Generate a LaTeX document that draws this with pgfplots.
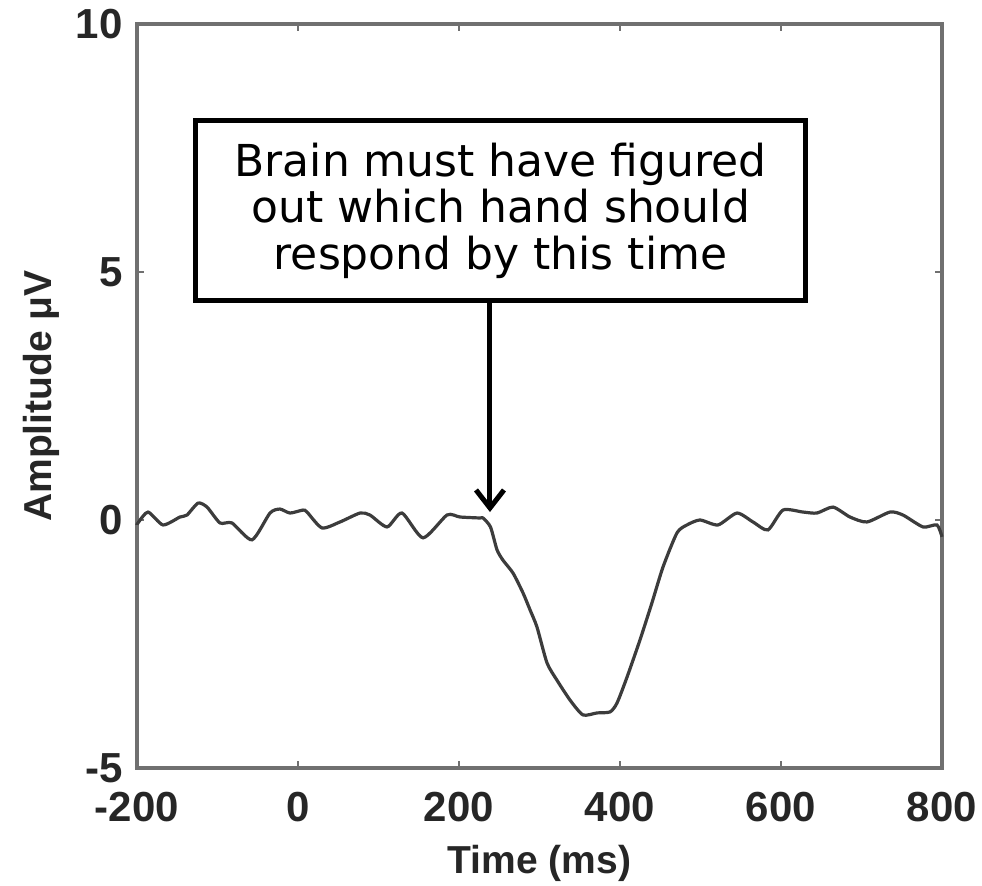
\documentclass[border=0pt]{standalone}
\usepackage{fontspec}
\setmainfont{Liberation Sans}
\newfontfamily\boxfont{DejaVu Sans}
\usepackage{pgfplots}
\pgfplotsset{compat=1.18}
\usetikzlibrary{arrows.meta}
\definecolor{framegray}{HTML}{707070}
\definecolor{curvegray}{HTML}{3C3C3C}
\begin{document}
\begin{tikzpicture}
\path[use as bounding box] (-68.5pt,-59pt) rectangle (422.5pt,384pt);
\begin{axis}[
  at={(0,0)}, anchor=south west,
  scale only axis, width=402.5pt, height=372pt,
  xmin=-200, xmax=800, ymin=-5, ymax=10,
  xtick={-200,0,200,400,600,800},
  ytick={-5,0,5,10},
  tick align=inside,
  major tick length=3.5pt,
  axis line style={framegray, line width=1.6pt},
  tick style={framegray, line width=1.4pt},
  /pgf/number format/assume math mode=true,
  ticklabel style={font=\fontsize{21}{21}\selectfont\bfseries, text=black!85},
  xticklabel style={inner sep=0pt, yshift=-12pt},
  yticklabel style={inner sep=0pt, xshift=-7pt},
  xlabel={Time (ms)},
  ylabel={Amplitude μV},
  xlabel style={font=\fontsize{19.5}{19.5}\selectfont\bfseries, text=black!85,
    at={(axis description cs:0.5,-0.1035)}, anchor=north, inner sep=0pt},
  ylabel style={font=\fontsize{19.5}{19.5}\selectfont\bfseries, text=black!85,
    at={(axis description cs:-0.0957,0.5)}, anchor=south, inner sep=0pt},
  clip=false,
]
\addplot[curvegray, line width=1.6pt, smooth, tension=0.4] coordinates {
(-200,-0.10) (-198.8,-0.06) (-186.3,0.16) (-167.7,-0.10) (-146.6,0.06) (-137.9,0.10)
(-124.2,0.34) (-113,0.26) (-96.9,-0.06) (-82,-0.06) (-57.1,-0.40) (-34.8,0.14)
(-22.4,0.22) (-9.9,0.14) (6.2,0.20) (11.2,0.16) (29.8,-0.16) (52.2,-0.04)
(77,0.14) (89.4,0.10) (110.6,-0.14) (129.2,0.14) (155.3,-0.36) (185.1,0.10)
(201.2,0.06) (226.1,0.04) (229.8,0.04) (239.1,-0.14) (247.2,-0.60) (254.6,-0.81)
(267.1,-1.07) (279.5,-1.47) (288.2,-1.81) (296.9,-2.16) (309.3,-2.88) (321.7,-3.23)
(337.9,-3.63) (354,-3.93) (371.4,-3.89) (387.6,-3.87) (396.3,-3.69) (408.7,-3.17)
(424.8,-2.42) (439.7,-1.67) (453.4,-0.95) (470.8,-0.26) (483.2,-0.10) (499.4,0.0)
(521.7,-0.10) (545.3,0.14) (565.2,-0.04) (583.8,-0.20) (602.5,0.20) (627.3,0.16)
(644.7,0.14) (664.6,0.26) (685.7,0.06) (706.8,-0.04) (735.4,0.16) (751.5,0.10)
(776.4,-0.14) (793.8,-0.10) (800,-0.34)
};
\node[draw=black, line width=2.5pt, fill=white, minimum width=305pt, minimum height=90pt,
  inner sep=0pt, align=center, font=\boxfont\fontsize{22}{23.2}\selectfont]
  at (axis cs:251.6,6.24) {Brain must have figured\\out which hand should\\respond by this time};
\draw[line width=2.5pt, -{Straight Barb[length=9pt,width=14pt]}]
  (axis cs:238.5,4.43) -- (axis cs:238.5,0.16);
\end{axis}
\end{tikzpicture}
\end{document}
